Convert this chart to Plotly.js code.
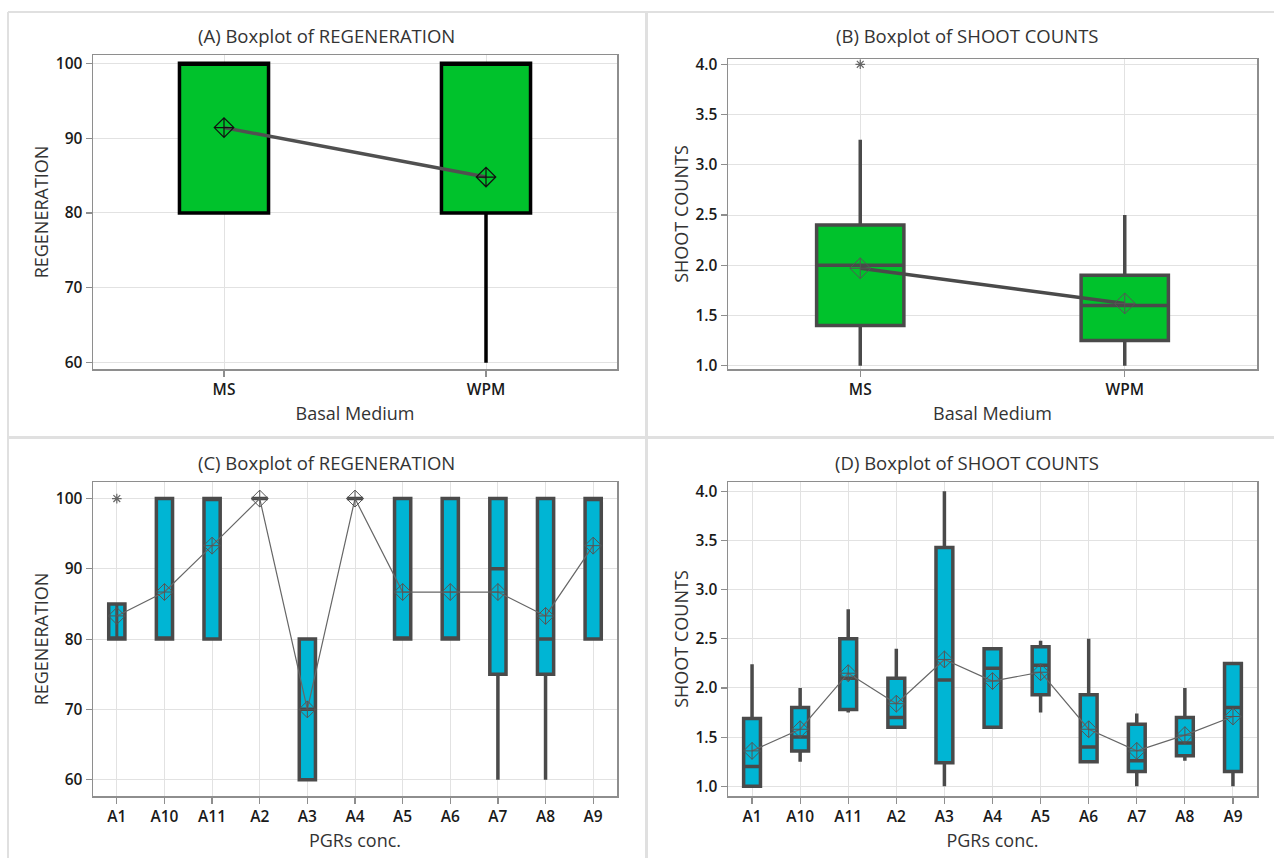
<!DOCTYPE html>
<html><head><meta charset="utf-8">
<script src="https://cdn.plot.ly/plotly-3.0.1.min.js"></script>
<style>html,body{margin:0;padding:0;background:#fff}#chart{width:1274px;height:858px}</style>
</head><body><div id="chart"></div>
<script>
// ---- Panels A & B : Basal medium ----
const mediumCats = ['MS', 'WPM'];
const regenMedQ1 = [80, 80];
const regenMedMedian = [100, 100];
const regenMedQ3 = [100, 100];
const regenMedLow = [80, 60];
const regenMedHigh = [100, 100];
const regenMedMean = [91.4, 84.8];

const shootMedQ1 = [1.4, 1.25];
const shootMedMedian = [2.0, 1.6];
const shootMedQ3 = [2.4, 1.9];
const shootMedLow = [1.0, 1.0];
const shootMedHigh = [3.25, 2.5];
const shootMedMean = [1.97, 1.62];
const shootMedOutX = ['MS'];
const shootMedOutY = [4.0];

// ---- Panels C & D : PGRs conc. ----
const pgrCats = ['A1', 'A10', 'A11', 'A2', 'A3', 'A4', 'A5', 'A6', 'A7', 'A8', 'A9'];
const regenPgrQ1 = [80, 80, 80, 100, 60, 100, 80, 80, 75, 75, 80];
const regenPgrMedian = [80, 80, 100, 100, 70, 100, 80, 80, 90, 80, 100];
const regenPgrQ3 = [85, 100, 100, 100, 80, 100, 100, 100, 100, 100, 100];
const regenPgrLow = [80, 80, 80, 100, 60, 100, 80, 80, 60, 60, 80];
const regenPgrHigh = [85, 100, 100, 100, 80, 100, 100, 100, 100, 100, 100];
const regenPgrMean = [83.3, 86.7, 93.3, 100, 70, 100, 86.7, 86.7, 86.7, 83.3, 93.3];
const regenPgrOutX = ['A1'];
const regenPgrOutY = [100];

const shootPgrQ1 = [1.0, 1.36, 1.78, 1.6, 1.24, 1.6, 1.93, 1.25, 1.15, 1.31, 1.15];
const shootPgrMedian = [1.2, 1.5, 2.1, 1.7, 2.08, 2.2, 2.23, 1.4, 1.26, 1.44, 1.8];
const shootPgrQ3 = [1.69, 1.8, 2.5, 2.1, 3.43, 2.4, 2.42, 1.93, 1.63, 1.7, 2.25];
const shootPgrLow = [1.0, 1.25, 1.75, 1.6, 1.0, 1.6, 1.75, 1.25, 1.0, 1.26, 1.0];
const shootPgrHigh = [2.24, 2.0, 2.8, 2.4, 4.0, 2.4, 2.48, 2.5, 1.74, 2.0, 2.25];
const shootPgrMean = [1.36, 1.58, 2.15, 1.84, 2.29, 2.07, 2.16, 1.58, 1.36, 1.52, 1.71];

// ---- styling ----
const W = 1274, H = 858;
const GREEN = '#00C22C', CYAN = '#00B5D4';
const DARK = '#4a4a4a';
const px = v => v / W, py = v => 1 - v / H;

function box(xa, ya, cats, q1, med, q3, lo, hi, fill, lineColor, width) {
  return {
    type: 'box', x: cats, q1: q1, median: med, q3: q3,
    lowerfence: lo, upperfence: hi,
    xaxis: xa, yaxis: ya, width: width, whiskerwidth: 0,
    boxpoints: false, fillcolor: fill,
    line: {color: lineColor, width: 3.5},
    showlegend: false, hoverinfo: 'y'
  };
}
function meanLine(xa, ya, cats, means, lineColor, lw, mColor, msize, mlw) {
  return {
    type: 'scatter', mode: 'lines+markers', x: cats, y: means,
    xaxis: xa, yaxis: ya, showlegend: false,
    line: {color: lineColor, width: lw},
    marker: {symbol: 'diamond-cross-open', size: msize, color: mColor, line: {width: mlw, color: mColor}}
  };
}
function outliers(xa, ya, xs, ys) {
  return {
    type: 'scatter', mode: 'markers', x: xs, y: ys, xaxis: xa, yaxis: ya,
    showlegend: false,
    marker: {symbol: 'asterisk-open', size: 8, color: '#666', line: {width: 1.2, color: '#666'}}
  };
}

const traces = [
  box('x', 'y', mediumCats, regenMedQ1, regenMedMedian, regenMedQ3, regenMedLow, regenMedHigh, GREEN, '#000', 0.34),
  meanLine('x', 'y', mediumCats, regenMedMean, '#505050', 3.5, '#111', 15, 1.2),

  box('x2', 'y2', mediumCats, shootMedQ1, shootMedMedian, shootMedQ3, shootMedLow, shootMedHigh, GREEN, DARK, 0.33),
  meanLine('x2', 'y2', mediumCats, shootMedMean, '#4a4a4a', 3.5, '#555', 16, 1),
  outliers('x2', 'y2', shootMedOutX, shootMedOutY),

  box('x3', 'y3', pgrCats, regenPgrQ1, regenPgrMedian, regenPgrQ3, regenPgrLow, regenPgrHigh, CYAN, DARK, 0.34),
  {type: 'scatter', mode: 'lines', x: [pgrCats[0], pgrCats[0]], y: [regenPgrQ1[0], regenPgrQ3[0]],
   xaxis: 'x3', yaxis: 'y3', showlegend: false, line: {color: DARK, width: 3}},
  meanLine('x3', 'y3', pgrCats, regenPgrMean, '#666', 1.2, '#555', 13, 1),
  outliers('x3', 'y3', regenPgrOutX, regenPgrOutY),

  box('x4', 'y4', pgrCats, shootPgrQ1, shootPgrMedian, shootPgrQ3, shootPgrLow, shootPgrHigh, CYAN, DARK, 0.35),
  meanLine('x4', 'y4', pgrCats, shootPgrMean, '#666', 1.2, '#555', 13, 1)
];

const tickFont = {family: 'Open Sans, sans-serif', size: 15.5, color: '#1a1a1a', weight: 600};
const titleFont = {family: 'Open Sans, sans-serif', size: 18, color: '#333'};
function xax(domain, anchor, title, range) {
  return {
    domain: domain, anchor: anchor, type: 'category', range: range,
    showgrid: true, gridcolor: '#e2e2e2', gridwidth: 1,
    showline: true, mirror: true, linecolor: '#8e8e8e', linewidth: 1.5,
    ticks: 'outside', ticklen: 6, tickcolor: '#8e8e8e', tickwidth: 1.2,
    tickfont: tickFont, zeroline: false, fixedrange: true,
    title: {text: title, font: titleFont, standoff: 8}
  };
}
function yax(domain, anchor, title, range, dtick, fmt) {
  return {
    domain: domain, anchor: anchor, range: range, dtick: dtick, tick0: 0, tickformat: fmt,
    showgrid: true, gridcolor: '#e2e2e2', gridwidth: 1,
    showline: true, mirror: true, linecolor: '#8e8e8e', linewidth: 1.5,
    ticks: 'outside', ticklen: 6, tickcolor: '#8e8e8e', tickwidth: 1.2,
    tickfont: tickFont, zeroline: false, fixedrange: true,
    title: {text: title, font: titleFont, standoff: 2}
  };
}

const xL = [px(93), px(617)], xR = [px(728), px(1257)];
const yT_A = [py(369), py(55)], yT_B = [py(369), py(59)];
const yBot = [py(796), py(482)];

const titleAnn = (x, y, text) => ({
  xref: 'paper', yref: 'paper', x: px(x), y: py(y), xanchor: 'center', yanchor: 'middle',
  text: text, showarrow: false, font: {family: 'Open Sans, sans-serif', size: 18.5, color: '#333'}
});
const sepColor = '#e0e0e0';
const line = (x0, y0, x1, y1, w) => ({type: 'line', xref: 'paper', yref: 'paper',
  x0: px(x0), y0: py(y0), x1: px(x1), y1: py(y1), line: {color: sepColor, width: w}});

const layout = {
  width: W, height: H, margin: {l: 0, r: 0, t: 0, b: 0},
  paper_bgcolor: '#fff', plot_bgcolor: '#fff', showlegend: false,
  xaxis: xax(xL, 'y', 'Basal Medium', [-0.5, 1.5]),
  yaxis: yax(yT_A, 'x', 'REGENERATION', [59.16, 101.1], 10, 'd'),
  xaxis2: xax(xR, 'y2', 'Basal Medium', [-0.5, 1.5]),
  yaxis2: yax(yT_B, 'x2', 'SHOOT COUNTS', [0.967, 4.053], 0.5, '.1f'),
  xaxis3: xax(xL, 'y3', 'PGRs conc.', [-0.5, 10.5]),
  yaxis3: yax(yBot, 'x3', 'REGENERATION', [57.67, 102.36], 10, 'd'),
  xaxis4: xax(xR, 'y4', 'PGRs conc.', [-0.5, 10.5]),
  yaxis4: yax(yBot, 'x4', 'SHOOT COUNTS', [0.901, 4.095], 0.5, '.1f'),
  annotations: [
    titleAnn(326, 35, '(A) Boxplot of REGENERATION'),
    titleAnn(967, 35, '(B) Boxplot of SHOOT COUNTS'),
    titleAnn(326, 462, '(C) Boxplot of REGENERATION'),
    titleAnn(967, 462, '(D) Boxplot of SHOOT COUNTS')
  ],
  shapes: [
    line(8, 12, 1274, 12, 2),
    line(8, 12, 8, 858, 2),
    line(646.5, 12, 646.5, 858, 3),
    line(8, 437.5, 1274, 437.5, 3)
  ]
};

Plotly.newPlot('chart', traces, layout, {displayModeBar: false, staticPlot: true});
</script>
</body></html>
